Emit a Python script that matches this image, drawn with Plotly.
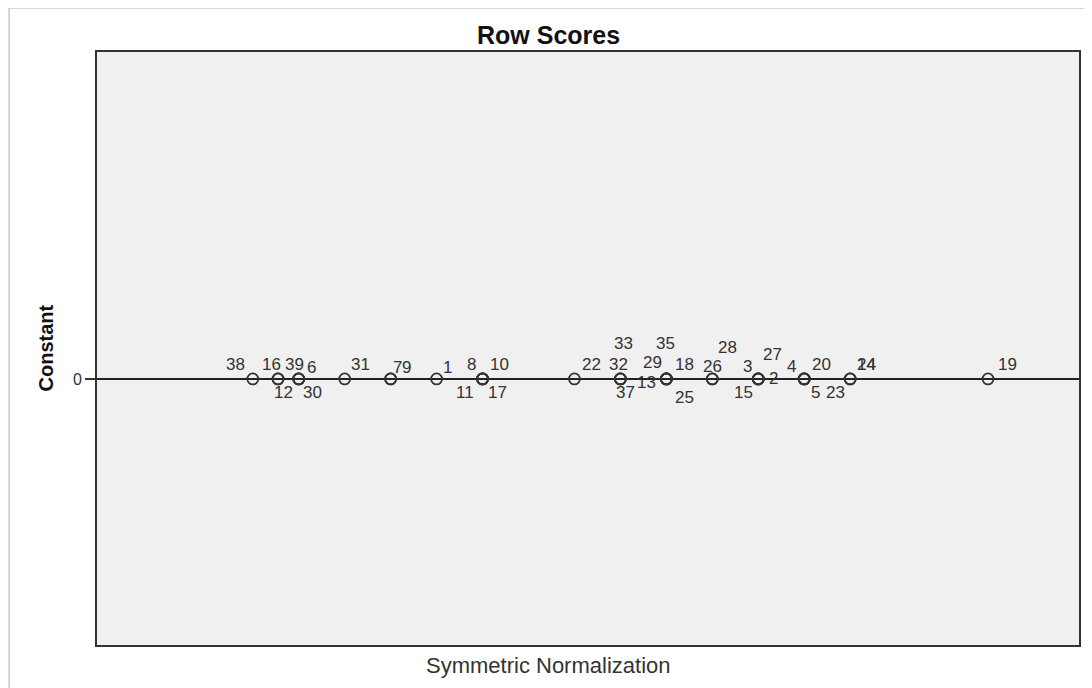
import plotly.graph_objects as go

# ---- data (row scores, dimension 1; dimension 2 is constant) ----
row_labels = ["38", "16", "12", "39", "6", "30", "31", "7", "9", "1",
              "8", "11", "10", "17", "22", "32", "33", "37", "29", "35",
              "13", "18", "25", "26", "28", "3", "15", "27", "2", "4",
              "20", "5", "23", "14", "24", "19"]
dim1_scores = [-1.60, -1.49, -1.49, -1.40, -1.40, -1.40, -1.20, -1.00, -1.00, -0.80,
               -0.60, -0.60, -0.60, -0.60, -0.20, 0.00, 0.00, 0.00, 0.20, 0.20,
               0.20, 0.20, 0.20, 0.40, 0.40, 0.60, 0.60, 0.60, 0.60, 0.80,
               0.80, 0.80, 0.80, 1.00, 1.00, 1.60]
constant_scores = [0.0] * len(row_labels)

title_text = "Row Scores"
x_title = "Symmetric Normalization"
y_title = "Constant"

# label placement offsets (pixels, dx right, dy up) – layout only
label_offsets = {
    "38": (-17, 14), "16": (-7, 14), "12": (5, -14), "39": (-4, 14), "6": (13, 11),
    "30": (14, -14), "31": (16, 14), "7": (7, 11), "9": (16, 11), "1": (11, 11),
    "8": (-11, 14), "11": (-18, -14), "10": (17, 14), "17": (15, -14), "22": (17, 14),
    "32": (-2, 14), "33": (3, 35), "37": (5, -14), "29": (-14, 16), "35": (-1, 35),
    "13": (-20, -4), "18": (18, 14), "25": (18, -19), "26": (0, 12), "28": (15, 31),
    "3": (-11, 12), "15": (-15, -14), "27": (14, 24), "2": (15, 0), "4": (-13, 12),
    "20": (17, 14), "5": (11, -14), "23": (31, -14), "14": (16, 14), "24": (16, 14),
    "19": (19, 14),
}

FONT = "Liberation Sans, Arial, sans-serif"

fig = go.Figure()
fig.add_trace(go.Scatter(
    x=dim1_scores, y=constant_scores, mode="markers",
    marker=dict(symbol="circle-open", size=11, color="#333333",
                line=dict(width=1.8, color="#333333")),
    hoverinfo="text", text=row_labels, showlegend=False,
))

annotations = []
for lab, xv, yv in zip(row_labels, dim1_scores, constant_scores):
    dx, dy = label_offsets.get(lab, (14, 14))
    annotations.append(dict(
        x=xv, y=yv, xref="x", yref="y", text=lab, showarrow=False,
        xanchor="center", yanchor="middle", xshift=dx, yshift=dy,
        font=dict(family=FONT, size=17, color="#333333"),
    ))

annotations.append(dict(
    x=0.5 - 0.04, y=1.0, xref="paper", yref="paper", yshift=17,
    text="<b>" + title_text + "</b>", showarrow=False,
    xanchor="center", yanchor="middle",
    font=dict(family=FONT, size=25, color="#111111"),
))
annotations.append(dict(
    x=0.5 - 0.04, y=0, xref="paper", yref="paper", yshift=-20,
    text=x_title, showarrow=False, xanchor="center", yanchor="middle",
    font=dict(family=FONT, size=22, color="#333333"),
))
annotations.append(dict(
    x=0, y=0.5, xref="paper", yref="paper", xshift=-52, textangle=-90,
    text="<b>" + y_title + "</b>", showarrow=False, xanchor="center", yanchor="middle",
    font=dict(family=FONT, size=20, color="#111111"),
))

shapes = [
    # outer chart frame (left and top edges visible)
    dict(type="line", xref="paper", yref="paper", x0=-0.0895, x1=-0.0895, y0=-0.1, y1=1.074,
         line=dict(color="#c8c8c8", width=1.5), layer="below"),
    dict(type="line", xref="paper", yref="paper", x0=-0.0895, x1=1.02, y0=1.074, y1=1.074,
         line=dict(color="#c8c8c8", width=1.5), layer="below"),
    # reference line at 0
    dict(type="line", xref="paper", yref="y", x0=0, x1=1, y0=0, y1=0,
         line=dict(color="#222222", width=2), layer="below"),
]

fig.update_layout(
    width=1084, height=680,
    margin=dict(l=89, r=11, t=44, b=43),
    paper_bgcolor="white", plot_bgcolor="#f0f0f0",
    annotations=annotations, shapes=shapes,
    xaxis=dict(range=[-2.278, 1.996], showgrid=False, zeroline=False,
               showticklabels=False, ticks="", showline=True, mirror=True,
               linecolor="#333333", linewidth=2),
    yaxis=dict(range=[-1.0, 1.229], showgrid=False, zeroline=False,
               tickmode="array", tickvals=[0], ticktext=["0"], ticks="outside",
               ticklen=10, tickwidth=1.5, tickcolor="#333333",
               tickfont=dict(family=FONT, size=16, color="#333333"),
               showline=True, mirror=True, linecolor="#333333", linewidth=2),
)

fig.write_html("out.html")
